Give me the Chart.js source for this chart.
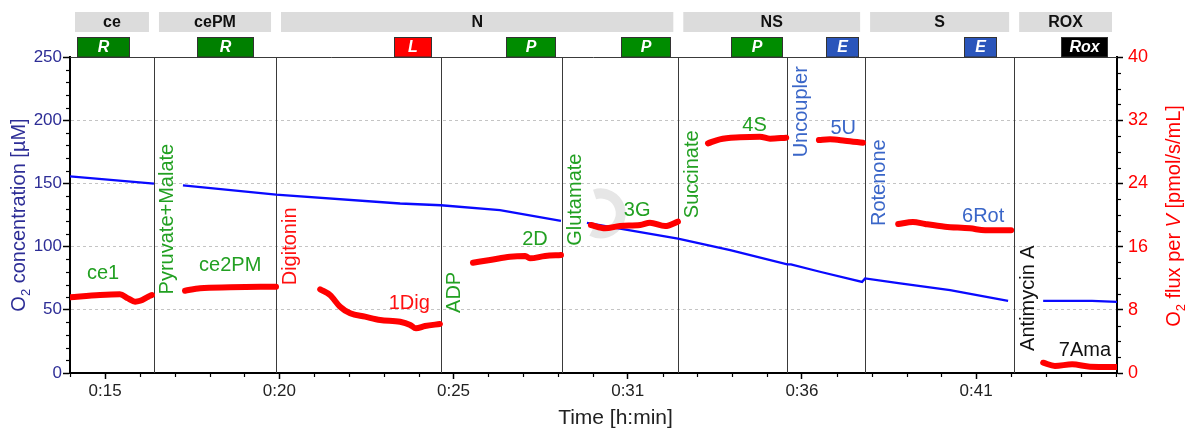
<!DOCTYPE html>
<html><head><meta charset="utf-8">
<script src="https://cdn.jsdelivr.net/npm/chart.js@4.4.1/dist/chart.umd.min.js"></script>
<style>html,body{margin:0;padding:0;background:#fff}canvas{display:block}</style>
</head><body>
<canvas id="c" width="1189" height="430"></canvas>
<script>
// ---------- DATA ----------
const TIME_MIN = 14.46, TIME_MAX = 45.51;               // minutes
const TIME_TICKS = [15.5, 20.667, 25.833, 31.0, 36.167, 41.333];
const TIME_TICK_LABELS = ['0:15', '0:20', '0:25', '0:31', '0:36', '0:41'];

// O2 concentration [µM] (left axis); null = gap
const O2_TIME  = [14.46, 16.95, 17.3, 17.81, 20.57, 24.25, 25.46, 27.21, 29.02, 29.4, 29.79, 30.77, 32.49, 34.04, 35.73, 35.84, 36.70, 37.95, 38.04, 39.08, 40.56, 42.28, 42.8, 43.32, 44.77, 45.51];
const O2_VALUE = [155.6, 149.8, null, 148.5, 141.2, 134.1, 132.7, 128.8, 120.3, null, 118.8, 114.3, 106.4, 97.2, 85.9, 85.9, 80.1, 72.1, 74.8, 70.9, 65.6, 57.1, null, 57.1, 57.1, 56.3];

// O2 flux per V [pmol/s/mL] (right axis); null = gap
const FLUX_TIME = [
  14.46, 15.35, 15.94, 16.18, 16.39, 16.54, 16.78, 16.89, 17.3,
  17.87, 18.32, 19.21, 20.57, 21.2,
  21.88, 22.17, 22.47, 22.77, 23.21, 23.66, 24.25, 24.55, 24.72, 24.99, 25.43, 25.9,
  26.41, 26.92, 27.51, 27.96, 28.10, 28.55, 29.02, 29.4,
  29.91, 30.33, 30.77, 31.37, 31.66, 32.11, 32.49, 32.9,
  33.38, 33.73, 34.33, 34.92, 35.22, 35.70, 36.2,
  36.67, 37.00, 37.44, 37.98, 38.5,
  39.02, 39.46, 39.82, 40.41, 41.15, 41.60, 42.37, 42.8,
  43.32, 43.67, 44.18, 44.71, 45.51];
const FLUX_VALUE = [
  9.58, 9.87, 9.96, 9.45, 9.03, 9.15, 9.66, 9.87, null,
  10.42, 10.72, 10.84, 10.93, null,
  10.59, 9.87, 8.39, 7.55, 7.13, 6.71, 6.49, 6.08, 5.65, 5.95, 6.20, null,
  13.96, 14.30, 14.72, 14.81, 14.51, 14.81, 14.94, null,
  18.73, 18.31, 18.61, 18.73, 19.03, 18.61, 19.16, null,
  29.07, 29.58, 29.83, 29.91, 29.66, 29.79, null,
  29.49, 29.58, 29.41, 29.15, null,
  18.86, 19.11, 18.86, 18.52, 18.31, 18.06, 18.06, null,
  1.30, 0.89, 1.10, 0.80, 0.76];

// Titration events
const EVENT_TIME  = [16.95, 20.57, 25.46, 29.04, 32.50, 35.73, 38.04, 42.46];
const EVENT_NAMES = ['Pyruvate+Malate', 'Digitonin', 'ADP', 'Glutamate', 'Succinate', 'Uncoupler', 'Rotenone', 'Antimycin A'];
const EVENT_KIND  = ['g', 'r', 'g', 'g', 'g', 'b', 'b', 'k'];
const EVENT_LABEL_LEVEL = [9.95, 11.1, 7.6, 16.1, 19.6, 27.3, 18.6, 2.8];   // flux units where label text starts

// Marks
const MARK_NAMES = ['ce1', 'ce2PM', '1Dig', '2D', '3G', '4S', '5U', '6Rot', '7Ama'];
const MARK_KIND  = ['g', 'g', 'r', 'g', 'g', 'g', 'b', 'b', 'k'];
const MARK_TIME  = [15.44, 19.21, 24.52, 28.25, 31.28, 34.76, 37.39, 41.54, 44.56];
const MARK_LEVEL = [12.66, 13.67, 8.86, 16.84, 20.51, 31.39, 31.01, 19.75, 2.91];

// Coupling-control groups (top grey row)
const GROUP_NAMES = ['ce', 'cePM', 'N', 'NS', 'S', 'ROX'];
const GROUP_START = [14.46, 16.95, 20.57, 32.50, 38.04, 42.46];
const GROUP_END   = [16.95, 20.57, 32.50, 38.04, 42.46, 45.51];

// States (coloured row)
const STATE_NAMES = ['R', 'R', 'L', 'P', 'P', 'P', 'E', 'E', 'Rox'];
const STATE_START = [14.67, 18.23, 24.07, 27.38, 30.79, 34.06, 36.88, 40.97, 43.85];
const STATE_END   = [16.21, 19.89, 25.17, 28.85, 32.26, 35.57, 37.83, 41.92, 45.21];

// ---------- STYLE ----------
const FONT = "'Liberation Sans', Arial, Helvetica, sans-serif";
const TEXT_COL = { g: '#22a022', r: '#ff1010', b: '#3a66c8', k: '#111111' };
const STATE_COL = { R: '#008000', L: '#ff0000', P: '#008c00', E: '#2a55bb', Rox: '#000000' };
const LEFT_COL = '#2d2d96';
const RIGHT_COL = '#ff0000';

const annot = {
  id: 'annot',
  beforeDatasetsDraw(chart) {
    const { ctx, chartArea: a, scales } = chart;
    const x = scales.x, yF = scales.yFlux;
    ctx.save();
    // faint watermark logo
    ctx.strokeStyle = 'rgba(200,200,200,0.45)';
    ctx.lineWidth = 10;
    ctx.beginPath();
    ctx.arc(x.getPixelForValue(30.2), yF.getPixelForValue(20.2), 20, -Math.PI * 0.6, Math.PI * 0.65);
    ctx.stroke();

    ctx.strokeStyle = '#3a3a3a';
    ctx.lineWidth = 1;
    ctx.beginPath(); ctx.moveTo(a.left, a.top + 0.5); ctx.lineTo(a.right, a.top + 0.5); ctx.stroke();
    EVENT_TIME.forEach(t => {
      const px = Math.round(x.getPixelForValue(t)) + 0.5;
      ctx.beginPath(); ctx.moveTo(px, a.top); ctx.lineTo(px, a.bottom); ctx.stroke();
    });
    ctx.restore();
  },
  afterDraw(chart) {
    const { ctx, chartArea: a, scales } = chart;
    const x = scales.x, yF = scales.yFlux, yO = scales.yO2;
    ctx.save();

    // minor ticks
    ctx.strokeStyle = '#000'; ctx.lineWidth = 1.2;
    const stepX = (TIME_TICKS[1] - TIME_TICKS[0]) / 5;
    for (let k = -10; k < 200; k++) {
      const t = TIME_TICKS[0] + k * stepX;
      if (t < TIME_MIN - 1e-6 || t > TIME_MAX + 1e-6) continue;
      if (((k % 5) + 5) % 5 === 0) continue;
      const px = Math.round(x.getPixelForValue(t)) + 0.5;
      ctx.beginPath(); ctx.moveTo(px, a.bottom); ctx.lineTo(px, a.bottom + 4); ctx.stroke();
    }
    for (let v = 0; v <= 250; v += 10) {
      if (v % 50 === 0) continue;
      const py = Math.round(yO.getPixelForValue(v)) + 0.5;
      ctx.beginPath(); ctx.moveTo(a.left - 4, py); ctx.lineTo(a.left, py); ctx.stroke();
    }
    for (let v = 0; v <= 40; v += 2) {
      if (v % 8 === 0) continue;
      const py = Math.round(yF.getPixelForValue(v)) + 0.5;
      ctx.beginPath(); ctx.moveTo(a.right, py); ctx.lineTo(a.right + 4, py); ctx.stroke();
    }

    // event labels (rotated)
    ctx.font = '20px ' + FONT;
    ctx.textBaseline = 'alphabetic';
    ctx.textAlign = 'left';
    EVENT_NAMES.forEach((name, i) => {
      const px = x.getPixelForValue(EVENT_TIME[i]);
      const py = yF.getPixelForValue(EVENT_LABEL_LEVEL[i]);
      ctx.save();
      ctx.translate(px + 19.5, py);
      ctx.rotate(-Math.PI / 2);
      ctx.fillStyle = TEXT_COL[EVENT_KIND[i]];
      ctx.fillText(name, 0, 0);
      ctx.restore();
    });

    // mark labels
    ctx.textAlign = 'center';
    ctx.textBaseline = 'middle';
    MARK_NAMES.forEach((name, i) => {
      ctx.fillStyle = TEXT_COL[MARK_KIND[i]];
      ctx.fillText(name, x.getPixelForValue(MARK_TIME[i]), yF.getPixelForValue(MARK_LEVEL[i]));
    });

    // top grey group boxes
    ctx.font = 'bold 16px ' + FONT;
    GROUP_NAMES.forEach((name, i) => {
      const x0 = x.getPixelForValue(GROUP_START[i]) + 5;
      const x1 = x.getPixelForValue(GROUP_END[i]) - 5;
      ctx.fillStyle = '#dcdcdc';
      ctx.fillRect(x0, 12, x1 - x0, 20);
      ctx.fillStyle = '#111';
      ctx.fillText(name, (x0 + x1) / 2, 23);
    });

    // state boxes
    ctx.font = 'italic bold 16px ' + FONT;
    STATE_NAMES.forEach((name, i) => {
      const x0 = Math.round(x.getPixelForValue(STATE_START[i])) + 0.5;
      const x1 = Math.round(x.getPixelForValue(STATE_END[i])) + 0.5;
      ctx.fillStyle = STATE_COL[name];
      ctx.fillRect(x0, 37.5, x1 - x0, 19.5);
      ctx.strokeStyle = '#333'; ctx.lineWidth = 1;
      ctx.strokeRect(x0, 37.5, x1 - x0, 19.5);
      ctx.fillStyle = '#fff';
      ctx.fillText(name, (x0 + x1) / 2, 48);
    });

    // axis titles
    function composite(parts, cx, cy, color) {
      ctx.save();
      ctx.translate(cx, cy);
      ctx.rotate(-Math.PI / 2);
      ctx.textAlign = 'left';
      ctx.textBaseline = 'alphabetic';
      ctx.fillStyle = color;
      let w = 0;
      parts.forEach(p => { ctx.font = p.f; w += ctx.measureText(p.t).width; });
      let cur = -w / 2;
      parts.forEach(p => { ctx.font = p.f; ctx.fillText(p.t, cur, p.dy || 0); cur += ctx.measureText(p.t).width; });
      ctx.restore();
    }
    composite([
      { t: 'O', f: '20px ' + FONT },
      { t: '2', f: '13px ' + FONT, dy: 5 },
      { t: ' concentration [µM]', f: '20px ' + FONT }
    ], 25, 215, LEFT_COL);
    composite([
      { t: 'O', f: '20px ' + FONT },
      { t: '2', f: '13px ' + FONT, dy: 5 },
      { t: ' flux per ', f: '20px ' + FONT },
      { t: 'V', f: 'italic 20px ' + FONT },
      { t: ' [pmol/s/mL]', f: '20px ' + FONT }
    ], 1180, 216, RIGHT_COL);

    ctx.font = '21px ' + FONT;
    ctx.fillStyle = '#222';
    ctx.textAlign = 'center';
    ctx.textBaseline = 'alphabetic';
    ctx.fillText('Time [h:min]', (a.left + a.right) / 2 + 22, 424);
    ctx.restore();
  }
};

const o2Data = O2_TIME.map((t, i) => ({ x: t, y: O2_VALUE[i] }));
const fluxData = FLUX_TIME.map((t, i) => ({ x: t, y: FLUX_VALUE[i] }));

new Chart(document.getElementById('c'), {
  type: 'line',
  data: {
    datasets: [
      { label: 'O2 flux per V', data: fluxData, yAxisID: 'yFlux', borderColor: '#ff0000', borderWidth: 6,
        borderCapStyle: 'round', borderJoinStyle: 'round', pointRadius: 0, cubicInterpolationMode: 'monotone',
        spanGaps: false, order: 0 },
      { label: 'O2 concentration', data: o2Data, yAxisID: 'yO2', borderColor: '#0a0aff', borderWidth: 2.3,
        pointRadius: 0, tension: 0, spanGaps: false, order: 1 }
    ]
  },
  options: {
    responsive: false,
    animation: false,
    events: [],
    layout: { padding: { top: 57, left: 0, right: 0, bottom: 0 } },
    plugins: { legend: { display: false }, tooltip: { enabled: false } },
    scales: {
      x: {
        type: 'linear', min: TIME_MIN, max: TIME_MAX,
        afterBuildTicks: s => { s.ticks = TIME_TICKS.map(v => ({ value: v })); },
        afterFit: s => { s.height = 57; },
        ticks: {
          autoSkip: false, maxRotation: 0, padding: 2, color: '#222',
          font: { family: FONT, size: 17 },
          callback: v => { const i = TIME_TICKS.findIndex(t => Math.abs(t - v) < 1e-6); return i >= 0 ? TIME_TICK_LABELS[i] : ''; }
        },
        grid: { drawOnChartArea: false, drawTicks: true, tickLength: 6, tickColor: '#000', tickWidth: 1.5, tickBorderDash: [] },
        border: { color: '#000', width: 2 }
      },
      yO2: {
        position: 'left', min: 0, max: 250,
        afterFit: s => { s.width = 70; },
        ticks: { stepSize: 50, padding: 1, color: LEFT_COL, font: { family: FONT, size: 17 } },
        grid: {
          drawOnChartArea: true, drawTicks: true, tickLength: 7, tickColor: '#000', tickWidth: 1.5, tickBorderDash: [],
          lineWidth: 1,
          color: c => (c.tick && (c.tick.value === 0 || c.tick.value === 250)) ? 'rgba(0,0,0,0)' : '#c4c4c4'
        },
        border: { color: '#000', width: 2, dash: [3, 3] }
      },
      yFlux: {
        position: 'right', min: 0, max: 40,
        afterFit: s => { s.width = 72; },
        ticks: { stepSize: 8, padding: 5, color: RIGHT_COL, font: { family: FONT, size: 18 } },
        grid: { drawOnChartArea: false, drawTicks: true, tickLength: 6, tickColor: '#000', tickWidth: 1.5, tickBorderDash: [] },
        border: { color: '#000', width: 2 }
      }
    }
  },
  plugins: [annot]
});
</script></body></html>
